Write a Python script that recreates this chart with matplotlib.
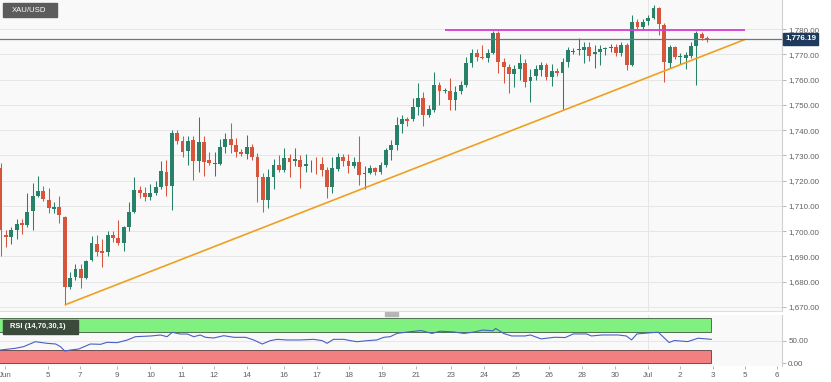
import matplotlib.pyplot as plt
from matplotlib.patches import Rectangle

plt.rcParams['font.family'] = ['Liberation Sans', 'DejaVu Sans']

# XAU/USD 4h candles
opens = [1725, 1698.5, 1697.7, 1700.5, 1703.3, 1702.4, 1708, 1714, 1716, 1712.3,
         1708.8, 1709.6, 1705.6, 1678, 1682, 1685, 1681.5, 1688.6, 1695, 1692,
         1691.8, 1698.5, 1697.3, 1695.3, 1701.6, 1707.6, 1716.3, 1715, 1713.5, 1715,
         1717.5, 1723.4, 1718, 1738.8, 1735.7, 1731.7, 1736, 1727.8, 1735.3, 1728.2,
         1726.6, 1726.6, 1733.3, 1736.5, 1734, 1731.4, 1730.5, 1733.3, 1729.4, 1721.4,
         1712.3, 1721.5, 1726.2, 1724.2, 1729, 1727.8, 1728.2, 1725.8, 1726, 1726.3,
         1726.6, 1724.2, 1717.5, 1724.6, 1729.4, 1727.8, 1725.8, 1727.4, 1722.6, 1723,
         1725, 1723.4, 1726.2, 1732, 1734, 1742.4, 1744.4, 1744.4, 1749, 1752.7,
         1746, 1748, 1757.8, 1755.3, 1755.5, 1752, 1755.5, 1757.8, 1766.5, 1770.5,
         1769, 1768.5, 1770.5, 1778.4, 1767, 1765, 1762.2, 1764.2, 1766.5, 1759.4,
         1761.4, 1763.8, 1765.8, 1761, 1763.4, 1762.6, 1767, 1771, 1771.7, 1771.7,
         1772.9, 1770, 1771, 1772, 1772.5, 1772.9, 1770.5, 1773.7, 1765.8, 1782.8,
         1780.8, 1783.2, 1784.4, 1788.3, 1781.6, 1766.5, 1772.9, 1769, 1768.5, 1769.3,
         1773.3, 1778, 1776.6]
highs = [1727, 1700.5, 1701.5, 1705, 1705, 1715, 1719, 1722, 1718, 1717,
         1711.5, 1713.8, 1706, 1684, 1687, 1687, 1688.5, 1698, 1698.5, 1697,
         1700, 1700, 1704.4, 1702, 1711.5, 1721.6, 1718, 1717.5, 1718.5, 1720,
         1727.6, 1728, 1740, 1740, 1737.5, 1737.5, 1737.5, 1745.2, 1737.5, 1731.5,
         1731.5, 1736.5, 1739, 1743, 1736.8, 1732.5, 1738, 1734.5, 1731, 1723,
         1724.6, 1728.5, 1730, 1733, 1730.5, 1733, 1730, 1730.5, 1728, 1729.3,
         1729.3, 1725.4, 1729.3, 1731, 1730.5, 1730.5, 1729.4, 1737.7, 1725.8, 1726,
         1725.5, 1727.5, 1733, 1736, 1745.2, 1746, 1745, 1752.6, 1758.6, 1755,
         1750, 1763, 1759, 1756.5, 1760.6, 1757.5, 1759.6, 1769, 1772, 1772,
         1773.8, 1772, 1779.2, 1779.2, 1768.7, 1766.1, 1765.6, 1770, 1768, 1764,
         1765.8, 1766.8, 1766.5, 1766, 1764.5, 1768.5, 1773, 1772.5, 1776.4, 1774.7,
         1774.7, 1773.5, 1773.6, 1773, 1774, 1774, 1774.9, 1774.5, 1785.5, 1784,
         1784, 1785.5, 1789.7, 1788.7, 1782.4, 1773.5, 1773.3, 1770.5, 1771, 1775,
         1779.2, 1778.8, 1777.2]
lows = [1690, 1693.7, 1695, 1697, 1699, 1701.6, 1700.5, 1713.5, 1712, 1707,
        1707, 1703.4, 1670.8, 1677, 1680.7, 1677.5, 1681, 1688, 1690, 1686,
        1690, 1695.6, 1694.5, 1692, 1700, 1707, 1713, 1712, 1712.5, 1714.5,
        1716.6, 1714, 1708.4, 1734.5, 1729.4, 1726, 1720.3, 1723.4, 1722, 1726,
        1722, 1726, 1731, 1731, 1729.4, 1729.6, 1728.5, 1728, 1711.5, 1707.6,
        1709, 1716.6, 1723.6, 1723.4, 1721.6, 1725.8, 1717, 1723.4, 1723.4, 1722.6,
        1721.8, 1713, 1715, 1724, 1725.8, 1723, 1725, 1718.3, 1716.6, 1722.5,
        1722.2, 1722.6, 1725.4, 1728, 1732, 1739, 1741.5, 1743.5, 1746, 1741.6,
        1745, 1747.2, 1750, 1754.5, 1748, 1748, 1754.3, 1757, 1765, 1767.2,
        1768, 1767, 1770, 1762.6, 1758.5, 1754.7, 1757, 1760, 1757.2, 1751.2,
        1760, 1761.5, 1759.8, 1757.4, 1761.5, 1748, 1764.8, 1770, 1769.7, 1766.5,
        1767.4, 1764.6, 1765.7, 1769.7, 1771, 1769.5, 1769.5, 1763.8, 1765.4, 1780,
        1779.5, 1781.5, 1784, 1777.6, 1759, 1764.6, 1768, 1766.3, 1764.3, 1768.4,
        1757.8, 1775.5, 1774.9]
closes = [1700.5, 1697.5, 1700.5, 1703, 1702.5, 1707.6, 1714, 1716, 1712.7, 1709.2,
          1709.5, 1706.4, 1678, 1681.5, 1685, 1681.5, 1688, 1695.3, 1691.8, 1691.5,
          1698.5, 1697.3, 1695.3, 1701.6, 1707.6, 1716.3, 1715, 1713.5, 1715, 1717.5,
          1723.8, 1718, 1738.8, 1735.7, 1731.4, 1735.7, 1727.8, 1735.3, 1727.4, 1727,
          1727, 1733.3, 1736.5, 1734, 1731.4, 1730.5, 1733.3, 1729.4, 1721.4, 1712.3,
          1721.5, 1726.2, 1724.2, 1729, 1727.4, 1728.5, 1725.4, 1726.6, 1726.3, 1726,
          1724.2, 1717.5, 1725, 1729.4, 1727.8, 1725.8, 1727.4, 1722.2, 1722.8, 1725,
          1723.4, 1726.2, 1732.1, 1734, 1742, 1744.4, 1743.6, 1749, 1752.7, 1746,
          1748.3, 1757.8, 1755.5, 1755.7, 1752, 1755, 1757.8, 1766.5, 1770.5, 1769,
          1768.5, 1770.5, 1778.4, 1767, 1765, 1762.2, 1764.2, 1766.5, 1759, 1761,
          1764.2, 1765.8, 1761, 1763.4, 1762.6, 1767, 1771.7, 1771.5, 1772.1, 1772.9,
          1769.3, 1771, 1772, 1772.2, 1773, 1770.5, 1773.7, 1765.8, 1782.8, 1780.8,
          1782.8, 1784.4, 1788.3, 1782, 1767, 1772.9, 1769, 1769.2, 1769.7, 1773.3,
          1778.4, 1776.4, 1776.19]

# date labels, placed at candle positions
tick_pos = [0.9, 8.9, 14.9, 21.8, 28.0, 33.9, 39.9, 46.1, 53.0, 59.1, 65.1, 71.3,
            77.6, 84.2, 90.3, 96.3, 102.5, 108.6, 114.8, 121.0, 126.9, 133.1, 139.1, 145.0]
tick_labels = ['Jun', '5', '7', '9', '10', '11', '12', '14', '16', '17', '18', '19',
               '21', '23', '24', '25', '26', '28', '30', 'Jul', '2', '3', '5', '6']

# RSI(14) line
rsi_pos = [0, 2.8, 4.3, 6.5, 8.7, 10.3, 11.2, 12.0, 13.1, 14.6, 16.8, 18.7, 19.9, 21.8,
           23.7, 25.2, 28.0, 29.9, 31.1, 32.1, 33.6, 34.9, 36.1, 37.3, 38.3, 39.8, 41.7,
           43.6, 45.8, 47.3, 48.9, 50.4, 51.7, 53.5, 56.0, 58.5, 60.1, 61.0, 62.2, 64.1,
           65.4, 66.6, 68.5, 70.3, 71.6, 72.8, 74.1, 76.6, 78.6, 80.6, 82.1, 84.6, 86.6,
           88.6, 90.0, 92.0, 92.5, 94.0, 95.5, 98.0, 99.0, 101.0, 103.5, 105.5, 107.0,
           109.5, 110.4, 112.4, 115.4, 116.9, 117.9, 118.9, 121.9, 122.9, 124.9, 125.9,
           128.4, 130.3, 132.8]
rsi_vals = [29.4, 33.2, 36.8, 47.8, 44.2, 42.7, 36.8, 27.2, 29.4, 31.6, 42.7, 42.0, 46.4, 45.7,
            51.6, 58.9, 60.4, 62.6, 58.9, 68.5, 64.8, 64.8, 58.9, 62.6, 57.5, 56.0, 61.1,
            57.5, 57.5, 51.6, 42.7, 50.1, 53.0, 51.6, 51.6, 53.0, 50.1, 44.2, 53.0, 53.0,
            50.1, 47.8, 50.1, 51.6, 57.5, 58.9, 66.3, 70.0, 72.5, 66.0, 71.0, 69.5, 66.0,
            69.5, 73.5, 72.0, 77.0, 66.0, 60.5, 60.5, 62.7, 54.0, 57.6, 57.0, 65.0,
            65.0, 60.5, 62.7, 62.7, 60.5, 51.8, 65.0, 68.0, 68.7, 46.0, 50.4,
            48.0, 55.5, 53.0]

last_price = 1776.19
resistance = 1779.8
res_from, res_to = 83.0, 139.1
trend_x = [12, 139.1]
trend_y = [1670.8, 1775.9]

green = '#28826a'
red = '#d7553c'
txt = '#606060'

fig = plt.figure(figsize=(8.31, 3.82), dpi=100, facecolor='white')
W = 782 / 831
ax = fig.add_axes([0, 1 - 311 / 382, W, 311 / 382])
ax2 = fig.add_axes([0, 1 - 366 / 382, W, 51 / 382])

x = list(range(len(closes)))
cols = [green if c >= o else red for o, c in zip(opens, closes)]
bottoms = [min(o, c) for o, c in zip(opens, closes)]
heights = [max(abs(c - o), 0.35) for o, c in zip(opens, closes)]

# price panel
ax.set_facecolor('#f9f9f9')
ax.set_xlim(-0.1, 146)
ax.set_ylim(1668.4, 1791.5)
ax.set_yticks(range(1670, 1781, 10))
ax.grid(axis='y', color='#e6e6e6', lw=0.7)
ax.axvline(121.0, color='#e6e6e6', lw=0.7)
ax.set_axisbelow(True)
ax.vlines(x, lows, highs, colors=cols, lw=0.75)
ax.bar(x, heights, bottom=bottoms, width=0.72, color=cols)

ax.plot(trend_x, trend_y, color='#eea020', lw=1.2, solid_capstyle='butt')
ax.hlines(resistance, res_from, res_to, color='#d63cd6', lw=1.3)
ax.axhline(last_price, color='#6a7683', lw=0.9)

ax.yaxis.tick_right()
ax.set_yticklabels(['{:,.2f}'.format(v) for v in range(1670, 1781, 10)])
ax.tick_params(axis='y', length=3, width=0.6, color='#aaaaaa', labelsize=5.8,
               labelcolor=txt, pad=1.5)
ax.tick_params(axis='x', bottom=False, labelbottom=False)
for s in ['top', 'left', 'bottom']:
    ax.spines[s].set_visible(False)
ax.spines['right'].set_color('#d0d0d0')

# last price tag
fig.add_artist(Rectangle((783 / 831, 1 - 45 / 382), 35 / 831, 12.5 / 382,
                         transform=fig.transFigure, color='#1e3a5c'))
fig.text(800.5 / 831, 1 - 38.8 / 382, '{:,.2f}'.format(last_price), ha='center',
         va='center', fontsize=5.8, color='white', fontweight='bold')

# pair label
fig.add_artist(Rectangle((3 / 831, 1 - 17.3 / 382), 54 / 831, 14 / 382,
                         transform=fig.transFigure, color='#5c5c5c'))
fig.text(11.5 / 831, 1 - 10.3 / 382, 'XAU/USD', ha='left', va='center',
         color='white', fontsize=5.6)

# pane splitter
fig.add_artist(plt.Line2D([0, W], [1 - 310.5 / 382] * 2, transform=fig.transFigure,
                          color='#efd6e6', lw=0.8))
fig.add_artist(Rectangle((385 / 831, 1 - 315.5 / 382), 13 / 831, 4 / 382,
                         transform=fig.transFigure, color='#b5b5b5'))

# RSI panel
ax2.set_facecolor('#f9f9f9')
ax2.set_xlim(-0.1, 146)
ax2.set_ylim(-6, 106.9)
band_end = len(closes) - 0.3
ax2.add_patch(Rectangle((-0.5, 70), band_end + 0.5, 30, fc='#80f080', ec='#3f5a3f', lw=0.6))
ax2.add_patch(Rectangle((-0.5, 0), band_end + 0.5, 30, fc='#f28080', ec='#5a3f3f', lw=0.6))
ax2.axhline(50, color='#e6e6e6', lw=0.7, zorder=0)
ax2.axvline(121.0, color='#e6e6e6', lw=0.7, zorder=0)
ax2.plot(rsi_pos, rsi_vals, color='#4a5fc4', lw=0.8)

ax2.yaxis.tick_right()
ax2.set_yticks([0, 50])
ax2.set_yticklabels(['0.00', '50.00'])
ax2.tick_params(axis='y', length=3, width=0.6, color='#aaaaaa', labelsize=5.8,
                labelcolor=txt, pad=1.5)
ax2.set_xticks(tick_pos)
ax2.set_xticklabels(tick_labels)
ax2.tick_params(axis='x', length=2.5, width=0.6, color='#aaaaaa', labelsize=5.8,
                labelcolor=txt, pad=1.5)
for s in ['top', 'left', 'bottom']:
    ax2.spines[s].set_visible(False)
ax2.spines['right'].set_color('#d0d0d0')

# RSI label
fig.add_artist(Rectangle((3 / 831, 1 - 334 / 382), 75 / 831, 14 / 382,
                         transform=fig.transFigure, color='#3b4a3b'))
fig.text(10.5 / 831, 1 - 327 / 382, 'RSI (14,70,30,1)', ha='left', va='center',
         color='white', fontsize=5.4, fontweight='bold')

fig.savefig('out.png', dpi=100, facecolor='white')
